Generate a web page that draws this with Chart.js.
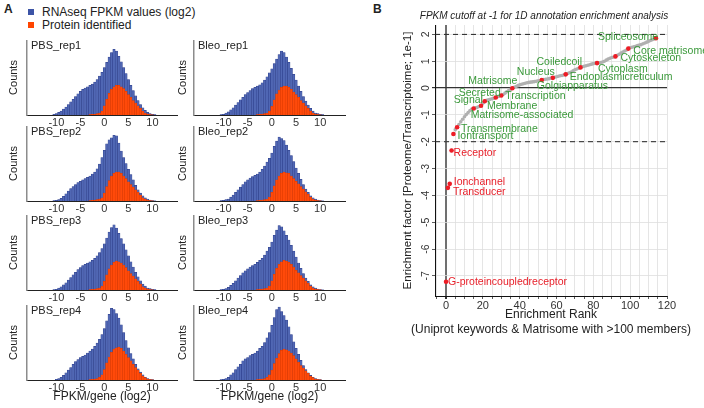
<!DOCTYPE html>
<html lang="en">
<head>
    <meta charset="UTF-8">
    <title>FPKM histograms and enrichment rank</title>
    <script src="https://cdn.jsdelivr.net/npm/chart.js"></script>
    <style>
        body { margin: 0; background: #fff; }
        #wrap { position: relative; width: 704px; height: 408px; overflow: hidden; background: #fff;
                font-family: "Liberation Sans", Arial, sans-serif; color: #222; }
        #wrap canvas { position: absolute; }
        .tag { position: absolute; font-weight: bold; font-size: 12px; }
        .key { position: absolute; left: 28px; font-size: 12px; line-height: 13px; }
        .key span { display: inline-block; width: 6px; height: 6px; margin-right: 8px; vertical-align: 1px; }
    </style>
</head>
<body>
<div id="wrap">
    <div class="tag" style="left:4px;top:2px">A</div>
    <div class="tag" style="left:373px;top:2px">B</div>
    <div class="key" style="top:6px"><span style="background:#3c54a6"></span>RNAseq FPKM values (log2)</div>
    <div class="key" style="top:19px"><span style="background:#ff4500"></span>Protein identified</div>

    <canvas id="h0" width="178" height="93" style="left:0;top:40px"></canvas>
    <canvas id="h1" width="175" height="93" style="left:175px;top:40px"></canvas>
    <canvas id="h2" width="178" height="93" style="left:0;top:126px"></canvas>
    <canvas id="h3" width="175" height="93" style="left:175px;top:126px"></canvas>
    <canvas id="h4" width="178" height="93" style="left:0;top:215px"></canvas>
    <canvas id="h5" width="175" height="93" style="left:175px;top:215px"></canvas>
    <canvas id="h6" width="178" height="100" style="left:0;top:305px"></canvas>
    <canvas id="h7" width="175" height="100" style="left:175px;top:305px"></canvas>
    <canvas id="rank" width="344" height="340" style="left:360px;top:0"></canvas>
</div>

<script>
    // ---- panel A: histogram bins (log2 FPKM), counts scaled so the tallest bar ~100
    const binCenters = [-11, -10.5, -10, -9.5, -9, -8.5, -8, -7.5, -7, -6.5, -6, -5.5, -5, -4.5, -4, -3.5,
        -3, -2.5, -2, -1.5, -1, -0.5, 0, 0.5, 1, 1.5, 2, 2.5, 3, 3.5, 4, 4.5, 5, 5.5, 6, 6.5,
        7, 7.5, 8, 8.5, 9, 9.5, 10, 10.5, 11];
    const histTicks = [-10, -5, 0, 5, 10];

    const pbsRep1Rna  = [0, 1, 2, 4, 6, 9, 12, 16, 20, 24, 28, 32, 36, 39, 41, 43, 45, 47, 50, 54, 59, 65, 72, 80, 88, 95, 100, 97, 89, 81, 72, 63, 54, 45, 37, 29, 22, 16, 11, 7, 4, 2, 1, 0.5, 0];
    const pbsRep1Prot = [0, 0, 0, 0, 0, 0, 0, 0, 0, 0, 0, 0, 0, 0, 0, 0, 0.5, 1, 1, 2, 3, 6, 14, 24, 33, 39, 43, 45, 45, 43, 40, 36, 31, 27, 22, 18, 14, 10, 6, 3, 1.5, 0.5, 0.3, 0, 0];
    const bleoRep1Rna  = [0, 0.5, 1, 3, 5, 8, 11, 15, 19, 23, 27, 31, 34, 37, 40, 42, 44, 46, 49, 53, 58, 64, 70, 78, 85, 92, 97, 95, 88, 80, 71, 62, 53, 44, 36, 28, 21, 15, 10, 6, 3, 2, 1, 0.5, 0];
    const bleoRep1Prot = [0, 0, 0, 0, 0, 0, 0, 0, 0, 0, 0, 0, 0, 0, 0, 0, 0.5, 1, 1.5, 2, 3, 6, 13, 23, 32, 38, 42, 44, 44, 42, 39, 35, 31, 27, 22, 18, 14, 10, 6, 3, 1.5, 0.5, 0.3, 0, 0];
    const pbsRep2Rna  = [0, 0.5, 1, 2, 4, 7, 11, 15, 19, 22, 25, 28, 30, 32, 34, 36, 38, 41, 44, 49, 56, 66, 77, 87, 93, 96, 100, 99, 88, 76, 66, 57, 48, 40, 32, 24, 17, 12, 8, 5, 3, 1.5, 0.7, 0.3, 0];
    const pbsRep2Prot = [0, 0, 0, 0, 0, 0, 0, 0, 0, 0, 0, 0, 0, 0, 0, 0, 0.5, 1, 1.5, 2, 3, 5, 12, 22, 31, 38, 42, 44, 44, 42, 38, 34, 29, 25, 21, 17, 13, 9, 5, 3, 1.5, 0.5, 0.3, 0, 0];
    const bleoRep2Rna  = [0, 0.5, 1, 2, 3, 6, 9, 13, 17, 21, 25, 29, 32, 35, 37, 39, 41, 44, 48, 53, 59, 65, 73, 83, 91, 97, 95, 92, 85, 77, 69, 60, 50, 42, 33, 25, 18, 13, 8, 5, 3, 1.5, 0.7, 0.3, 0];
    const bleoRep2Prot = [0, 0, 0, 0, 0, 0, 0, 0, 0, 0, 0, 0, 0, 0, 0, 0, 0.5, 1, 1.5, 2, 3, 6, 13, 23, 32, 38, 42, 44, 43, 42, 38, 34, 30, 26, 22, 18, 14, 10, 6, 3, 1.5, 0.5, 0.3, 0, 0];
    const pbsRep3Rna  = [0, 0.5, 1, 3, 5, 8, 11, 15, 19, 23, 27, 31, 34, 37, 39, 41, 43, 45, 48, 52, 57, 63, 70, 79, 88, 95, 99, 94, 86, 78, 70, 61, 52, 43, 35, 27, 20, 14, 9, 6, 3, 2, 1, 0.5, 0];
    const pbsRep3Prot = [0, 0, 0, 0, 0, 0, 0, 0, 0, 0, 0, 0, 0, 0, 0, 0, 0.5, 1, 1.5, 2, 3, 6, 13, 23, 32, 38, 42, 44, 43, 41, 38, 34, 29, 25, 21, 17, 13, 9, 5, 3, 1.5, 0.5, 0.3, 0, 0];
    const bleoRep3Rna  = [0, 0.5, 1, 2, 4, 7, 10, 14, 18, 22, 26, 29, 32, 35, 37, 39, 42, 45, 48, 53, 59, 65, 73, 83, 91, 98, 96, 90, 83, 76, 68, 59, 50, 41, 33, 25, 18, 13, 8, 5, 3, 1.5, 0.7, 0.3, 0];
    const bleoRep3Prot = [0, 0, 0, 0, 0, 0, 0, 0, 0, 0, 0, 0, 0, 0, 0, 0, 0.5, 1, 1.5, 2, 3, 6, 14, 24, 33, 39, 43, 45, 44, 42, 39, 35, 30, 26, 22, 18, 14, 10, 6, 3, 1.5, 0.5, 0.3, 0, 0];
    const pbsRep4Rna  = [0, 0, 1, 2, 4, 7, 11, 15, 19, 24, 28, 31, 34, 36, 38, 41, 44, 47, 51, 56, 62, 69, 78, 90, 100, 109, 107, 101, 94, 84, 72, 60, 49, 40, 32, 24, 17, 12, 8, 4, 2, 1, 0.5, 0, 0];
    const pbsRep4Prot = [0, 0, 0, 0, 0, 0, 0, 0, 0, 0, 0, 0, 0, 0, 0, 0, 0.5, 1, 1.5, 2, 4, 8, 16, 26, 35, 42, 47, 49, 50, 48, 44, 39, 34, 29, 24, 19, 15, 10, 6, 3.5, 1.5, 0.5, 0.3, 0, 0];
    const bleoRep4Rna  = [0, 0.5, 1, 2, 4, 8, 11, 16, 20, 24, 29, 32, 34, 37, 39, 41, 44, 48, 51, 57, 64, 72, 83, 95, 107, 111, 104, 98, 91, 81, 69, 58, 48, 39, 30, 22, 16, 11, 7, 4, 2, 1, 0.5, 0, 0];
    const bleoRep4Prot = [0, 0, 0, 0, 0, 0, 0, 0, 0, 0, 0, 0, 0, 0, 0, 0, 0.5, 1, 1.5, 2, 4, 8, 15, 25, 33, 40, 45, 47, 46, 44, 41, 37, 32, 27, 22, 18, 14, 10, 6, 3.5, 1.5, 0.5, 0.3, 0, 0];

    const panelNames = ['PBS_rep1', 'Bleo_rep1', 'PBS_rep2', 'Bleo_rep2', 'PBS_rep3', 'Bleo_rep3', 'PBS_rep4', 'Bleo_rep4'];
    const panelRna  = [pbsRep1Rna, bleoRep1Rna, pbsRep2Rna, bleoRep2Rna, pbsRep3Rna, bleoRep3Rna, pbsRep4Rna, bleoRep4Rna];
    const panelProt = [pbsRep1Prot, bleoRep1Prot, pbsRep2Prot, bleoRep2Prot, pbsRep3Prot, bleoRep3Prot, pbsRep4Prot, bleoRep4Prot];

    // ---- panel B: enrichment factor by rank (rank 0 = most depleted)
    const enrichment = [
        -7.22, -3.72, -3.57, -2.33, -1.71, -1.55, -1.46, -1.36, -1.26, -1.16,
        -1.07, -0.99, -0.91, -0.84, -0.78, -0.76, -0.74, -0.72, -0.69, -0.66,
        -0.57, -0.49, -0.46, -0.44, -0.42, -0.40, -0.38, -0.35, -0.32, -0.30,
        -0.28, -0.24, -0.19, -0.14, -0.09, -0.05, -0.01, 0.03, 0.06, 0.09,
        0.12, 0.14, 0.16, 0.18, 0.20, 0.21, 0.22, 0.23, 0.24, 0.25,
        0.27, 0.28, 0.30, 0.32, 0.33, 0.34, 0.35, 0.37, 0.38, 0.40,
        0.42, 0.44, 0.46, 0.47, 0.49, 0.51, 0.54, 0.57, 0.60, 0.64,
        0.68, 0.71, 0.74, 0.77, 0.79, 0.81, 0.83, 0.85, 0.87, 0.89,
        0.91, 0.92, 0.93, 0.94, 0.95, 0.97, 1.00, 1.04, 1.08, 1.11,
        1.14, 1.16, 1.18, 1.22, 1.26, 1.30, 1.34, 1.38, 1.42, 1.47,
        1.50, 1.52, 1.54, 1.56, 1.58, 1.60, 1.62, 1.65, 1.68, 1.71,
        1.74, 1.77, 1.80, 1.83, 1.86
    ];
    const termRank = [0, 1, 2, 3, 4, 6, 15, 19, 21, 27, 30, 36, 52, 58, 65, 73, 82, 92, 99, 114];
    const termName = ['G-proteincoupledreceptor', 'Transducer', 'Ionchannel', 'Receptor', 'Iontransport',
        'Transmembrane', 'Matrisome-associated', 'Membrane', 'Signal', 'Secreted', 'Transcription',
        'Matrisome', 'Nucleus', 'Golgiapparatus', 'Endoplasmicreticulum', 'Coiledcoil', 'Cytoplasm',
        'Cytoskeleton', 'Core matrisome', 'Spliceosome'];
    const cutoffs = [2, -2];
    const rankMin = -6, rankMax = 120;
    const rankTitle = 'FPKM cutoff at -1 for 1D annotation enrichment analysis';
    const rankXTitle = ['Enrichment Rank', '(Uniprot keywords & Matrisome with >100 members)'];

    // where each term label sits relative to its dot (px: left edge, vertical centre)
    const labelOffset = [[2, 0], [5, 4], [4, -2], [2, 3], [4, 2], [4, 2], [-3, 7], [6, 0], [-31, -1], [-37, -4],
        [4, 1], [-44, -7], [-25, -8], [-16, 8], [4, 3], [-44, -5], [1, 6], [5, 2], [5, 2], [-58, -1]];

    const FONT = '"Liberation Sans", Arial, sans-serif';

    const panelName = {
        id: 'panelName',
        afterDraw(chart, args, opts) {
            const {ctx, chartArea} = chart;
            ctx.save();
            ctx.font = '11px ' + FONT;
            ctx.fillStyle = '#222';
            ctx.textBaseline = 'middle';
            ctx.fillText(opts.text, chartArea.left + 4, chartArea.top + 6);
            ctx.restore();
        }
    };

    function histChart(i) {
        const col = i % 2;
        const last = i >= 6;
        new Chart(document.getElementById('h' + i), {
            type: 'bar',
            data: {
                datasets: [{
                    label: 'RNAseq FPKM values (log2)',
                    data: binCenters.map((x, k) => ({x: x, y: panelRna[i][k]})),
                    backgroundColor: '#5067b4',
                    borderColor: '#2b3c88',
                    borderWidth: 0.5,
                    order: 2
                }, {
                    label: 'Protein identified',
                    data: binCenters.map((x, k) => ({x: x, y: panelProt[i][k]})),
                    backgroundColor: '#ff4a0a',
                    borderColor: '#dc3a00',
                    borderWidth: 0.5,
                    order: 1
                }]
            },
            options: {
                responsive: false,
                animation: false,
                layout: { padding: { right: col === 0 ? 1 : 5 } },
                datasets: { bar: { grouped: false, barPercentage: 1, categoryPercentage: 1 } },
                plugins: {
                    legend: { display: false },
                    tooltip: { enabled: false },
                    panelName: { text: panelNames[i] }
                },
                scales: {
                    x: {
                        type: 'linear', min: -13, max: 12,
                        afterBuildTicks: s => { s.ticks = histTicks.map(v => ({value: v})); },
                        grid: { display: false, drawTicks: false },
                        border: { color: '#222', width: 1 },
                        ticks: { padding: 1, maxRotation: 0, color: '#333', font: { family: FONT, size: 11 } },
                        title: { display: last, text: 'FPKM/gene (log2)', color: '#222',
                                 font: { family: FONT, size: 12 }, padding: { top: 0, bottom: 1 } },
                        afterFit: s => { s.height = last ? 25 : 18; }
                    },
                    y: {
                        min: 0, max: 114,
                        ticks: { display: false },
                        grid: { display: false, drawTicks: false },
                        border: { color: '#8c8c8c', width: 1.5 },
                        title: { display: true, text: 'Counts', color: '#222',
                                 font: { family: FONT, size: 11 },
                                 padding: { top: col === 0 ? 7.4 : 1.4, bottom: 0 } },
                        afterFit: s => { s.width = col === 0 ? 27 : 19; }
                    }
                }
            },
            plugins: [panelName]
        });
    }

    for (let i = 0; i < 8; i++) histChart(i);

    // labels next to the red term dots, plus the plot title and the two-line x title
    const termLabels = {
        id: 'termLabels',
        afterDatasetsDraw(chart) {
            const {ctx} = chart;
            const meta = chart.getDatasetMeta(0);
            ctx.save();
            ctx.font = '10.5px ' + FONT;
            ctx.textBaseline = 'middle';
            ctx.textAlign = 'left';
            meta.data.forEach((pt, k) => {
                ctx.fillStyle = enrichment[termRank[k]] < -2 ? '#e8202a' : '#3a993a';
                ctx.fillText(termName[k], pt.x + labelOffset[k][0], pt.y + labelOffset[k][1]);
            });
            ctx.restore();
        },
        afterDraw(chart) {
            const {ctx, chartArea: a} = chart;
            const cx = (a.left + a.right) / 2;
            ctx.save();
            ctx.textAlign = 'center';
            ctx.textBaseline = 'middle';
            ctx.fillStyle = '#222';
            ctx.font = 'italic 10px ' + FONT;
            ctx.fillText(rankTitle, cx - 7, a.top - 9);
            ctx.font = '12px ' + FONT;
            rankXTitle.forEach((t, k) => ctx.fillText(t, cx, a.bottom + 19 + 15 * k));
            ctx.restore();
        }
    };

    const cutoffSets = cutoffs.map(c => ({
        type: 'line',
        data: [{x: rankMin, y: c}, {x: rankMax, y: c}],
        borderColor: '#222',
        borderWidth: 1,
        borderDash: [5, 4],
        pointRadius: 0,
        order: 3
    }));

    new Chart(document.getElementById('rank'), {
        type: 'scatter',
        data: {
            datasets: [{
                label: 'Annotated terms',
                data: termRank.map(r => ({x: r, y: enrichment[r]})),
                backgroundColor: '#ee1c25',
                borderWidth: 0,
                pointRadius: 2.3,
                order: 0
            }, {
                label: 'All terms',
                data: enrichment.map((y, r) => ({x: r, y: y})),
                backgroundColor: '#b0b0b0',
                borderWidth: 0,
                pointRadius: 1.8,
                order: 1
            }].concat(cutoffSets)
        },
        options: {
            responsive: false,
            animation: false,
            layout: { padding: { top: 25, right: 37 } },
            plugins: {
                legend: { display: false },
                tooltip: { enabled: false }
            },
            scales: {
                x: {
                    type: 'linear', min: rankMin, max: rankMax,
                    grid: {
                        color: c => (c.tick && c.tick.value === 0) ? '#707070' : '#dedede',
                        lineWidth: c => (c.tick && c.tick.value === 0) ? 2 : 0.8,
                        tickColor: '#333', tickLength: 3
                    },
                    border: { color: '#111', width: 1 },
                    ticks: {
                        stepSize: 5, includeBounds: false, autoSkip: false, maxRotation: 0, padding: 0,
                        color: '#333', font: { family: FONT, size: 11 },
                        callback: v => (v >= 0 && v % 20 === 0) ? String(v) : ''
                    },
                    afterFit: s => { s.height = 44; }
                },
                y: {
                    min: -7.75, max: 2.35,
                    grid: {
                        color: c => (c.tick && c.tick.value === 0) ? '#333' : '#dedede',
                        lineWidth: c => (c.tick && c.tick.value === 0) ? 1.2 : 0.8,
                        tickColor: '#333', tickLength: 3
                    },
                    border: { color: '#111', width: 1 },
                    ticks: {
                        stepSize: 1, includeBounds: false, minRotation: 90, maxRotation: 90,
                        crossAlign: 'center', padding: 1.5,
                        color: '#333', font: { family: FONT, size: 10.5 }
                    },
                    title: {
                        display: true,
                        text: 'Enrichment factor [Proteome/Transcriptoime; 1e-1]',
                        color: '#222',
                        font: { family: FONT, size: 11.5, lineHeight: 1.3 },
                        padding: { top: 40, bottom: 0 }
                    },
                    afterFit: s => { s.width = 75; }
                }
            }
        },
        plugins: [termLabels]
    });
</script>
</body>
</html>
